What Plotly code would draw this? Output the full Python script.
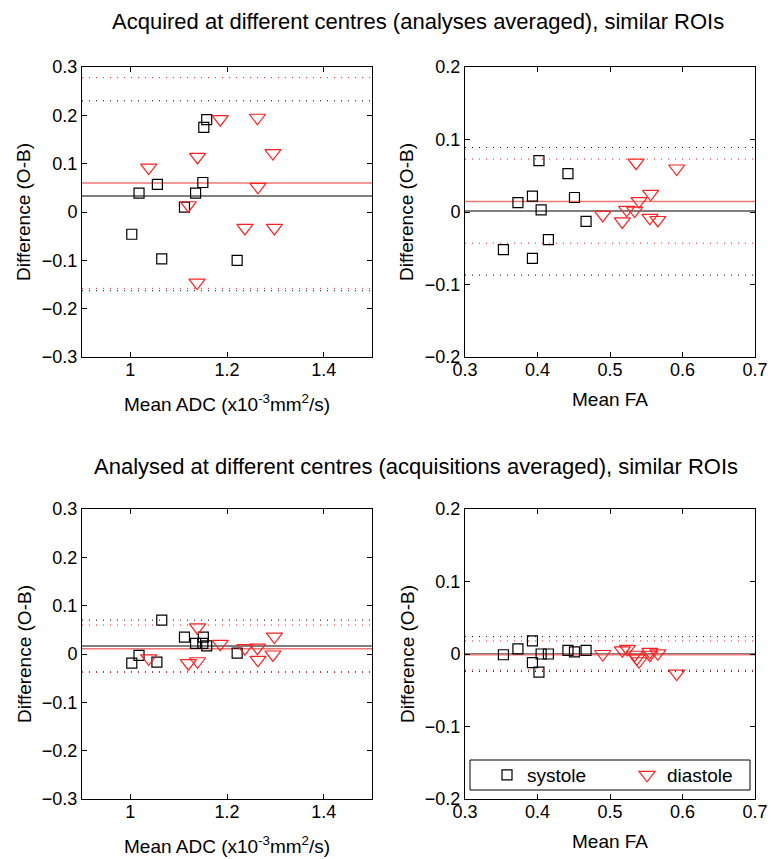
import plotly.graph_objects as go
from plotly.subplots import make_subplots

# ---------------- data ----------------
# Panel A: acquired at different centres, ADC
adc_sys_x = [1.158, 1.152, 1.056, 1.150, 1.018, 1.135, 1.112, 1.003, 1.065, 1.221]
adc_sys_y_acq = [0.191, 0.175, 0.057, 0.061, 0.039, 0.039, 0.010, -0.046, -0.097, -0.100]
adc_dia_x = [1.186, 1.263, 1.295, 1.139, 1.038, 1.264, 1.120, 1.237, 1.298, 1.138]
adc_dia_y_acq = [0.192, 0.195, 0.122, 0.114, 0.092, 0.052, 0.014, -0.033, -0.033, -0.146]
adc_acq_sys_stats = [0.033, 0.230, -0.163]   # mean, upper, lower limit
adc_acq_dia_stats = [0.060, 0.278, -0.158]

# Panel B: acquired at different centres, FA
fa_sys_x_acq = [0.402, 0.442, 0.373, 0.393, 0.451, 0.405, 0.467, 0.415, 0.353, 0.393]
fa_sys_y_acq = [0.071, 0.053, 0.013, 0.022, 0.020, 0.003, -0.013, -0.038, -0.052, -0.064]
fa_dia_x_acq = [0.536, 0.592, 0.556, 0.540, 0.523, 0.534, 0.490, 0.517, 0.555, 0.566]
fa_dia_y_acq = [0.068, 0.060, 0.025, 0.015, 0.003, 0.002, -0.004, -0.013, -0.008, -0.011]
fa_acq_sys_stats = [0.0013, 0.089, -0.087]
fa_acq_dia_stats = [0.0146, 0.073, -0.043]

# Panel C: analysed at different centres, ADC
adc_sys_x_an = [1.065, 1.112, 1.151, 1.135, 1.150, 1.158, 1.221, 1.018, 1.003, 1.055]
adc_sys_y_an = [0.070, 0.035, 0.035, 0.022, 0.022, 0.017, 0.002, -0.003, -0.019, -0.017]
adc_dia_x_an = [1.139, 1.298, 1.186, 1.237, 1.263, 1.038, 1.264, 1.295, 1.120, 1.139]
adc_dia_y_an = [0.055, 0.036, 0.021, 0.012, 0.013, -0.009, -0.012, -0.001, -0.019, -0.015]
adc_an_sys_stats = [0.0166, 0.070, -0.037]
adc_an_dia_stats = [0.011, 0.060, -0.038]

# Panel D: analysed at different centres, FA
fa_sys_x_an = [0.353, 0.373, 0.393, 0.405, 0.415, 0.393, 0.402, 0.442, 0.451, 0.467]
fa_sys_y_an = [-0.001, 0.007, 0.018, 0.000, 0.000, -0.012, -0.025, 0.005, 0.003, 0.005]
fa_dia_x_an = [0.490, 0.517, 0.524, 0.534, 0.537, 0.540, 0.555, 0.566, 0.555, 0.592]
fa_dia_y_an = [0.000, 0.005, 0.007, -0.001, -0.006, -0.010, 0.003, 0.001, -0.001, -0.027]
fa_an_sys_stats = [0.000, 0.024, -0.024]
fa_an_dia_stats = [-0.001, 0.018, -0.022]

title_top = "Acquired at different centres (analyses averaged), similar ROIs"
title_bottom = "Analysed at different centres (acquisitions averaged), similar ROIs"
xlabel_adc = "Mean ADC (x10<sup>-3</sup>mm<sup>2</sup>/s)"
xlabel_fa = "Mean FA"
ylabel = "Difference (O-B)"
adc_ticks = [1.0, 1.2, 1.4]
adc_ticktext = ["1", "1.2", "1.4"]
fa_ticks = [0.3, 0.4, 0.5, 0.6, 0.7]
adc_yticks = [-0.3, -0.2, -0.1, 0, 0.1, 0.2, 0.3]
fa_yticks = [-0.2, -0.1, 0, 0.1, 0.2]

# ---------------- figure ----------------
FONT = "Liberation Sans, Arial, Helvetica, sans-serif"
RED = "#ff2020"
W, H = 771, 859
fig = make_subplots(rows=2, cols=2)

panels = [
    (1, 1, adc_sys_x, adc_sys_y_acq, adc_dia_x, adc_dia_y_acq, adc_acq_sys_stats, adc_acq_dia_stats),
    (1, 2, fa_sys_x_acq, fa_sys_y_acq, fa_dia_x_acq, fa_dia_y_acq, fa_acq_sys_stats, fa_acq_dia_stats),
    (2, 1, adc_sys_x_an, adc_sys_y_an, adc_dia_x_an, adc_dia_y_an, adc_an_sys_stats, adc_an_dia_stats),
    (2, 2, fa_sys_x_an, fa_sys_y_an, fa_dia_x_an, fa_dia_y_an, fa_an_sys_stats, fa_an_dia_stats),
]

for i, (r, c, sx, sy, dx, dy, sst, dst) in enumerate(panels):
    show = (r == 2 and c == 2)
    fig.add_trace(go.Scatter(x=sx, y=sy, mode="markers", name="systole", showlegend=show,
                             marker=dict(symbol="square-open", size=10, color="black",
                                         line=dict(width=1.2, color="black"))),
                  row=r, col=c)
    fig.add_trace(go.Scatter(x=dx, y=dy, mode="markers", name="diastole", showlegend=show,
                             marker=dict(symbol="triangle-down-open", size=14, color=RED,
                                         line=dict(width=1.2, color=RED))),
                  row=r, col=c)
    # stats lines (drawn below the markers)
    fig.add_hline(y=sst[0], row=r, col=c, layer="below", exclude_empty_subplots=False,
                  line=dict(color="#555555", width=1.5))
    fig.add_hline(y=dst[0], row=r, col=c, layer="below", exclude_empty_subplots=False,
                  line=dict(color="#f07575", width=1.5))
    for v in sst[1:]:
        fig.add_hline(y=v, row=r, col=c, layer="below", exclude_empty_subplots=False,
                      line=dict(color="black", width=1, dash="1px,6px"))
    for v in dst[1:]:
        fig.add_hline(y=v, row=r, col=c, layer="below", exclude_empty_subplots=False,
                      line=dict(color=RED, width=1, dash="1px,6px"))

xdom_l = [82 / W, 372 / W]
xdom_r = [465 / W, 755 / W]
ydom_t = [1 - 357 / H, 1 - 67 / H]
ydom_b = [1 - 799 / H, 1 - 509 / H]

axis_common = dict(showgrid=False, zeroline=False, showline=True, linecolor="black",
                   linewidth=1, mirror="ticks", ticks="inside", ticklen=5, automargin=False,
                   tickcolor="black", tickfont=dict(size=18, color="black", family=FONT))

for r, c, xd, yd in [(1, 1, xdom_l, ydom_t), (1, 2, xdom_r, ydom_t),
                     (2, 1, xdom_l, ydom_b), (2, 2, xdom_r, ydom_b)]:
    adc = (c == 1)
    fig.update_xaxes(domain=xd, range=[0.9, 1.5] if adc else [0.3, 0.7],
                     tickvals=adc_ticks if adc else fa_ticks,
                     ticktext=adc_ticktext if adc else None,
                     ticklabelstandoff=-4,
                     row=r, col=c, **axis_common)
    fig.update_yaxes(domain=yd, range=[-0.3, 0.3] if adc else [-0.2, 0.2],
                     tickvals=adc_yticks if adc else fa_yticks,
                     row=r, col=c, **axis_common)


def ann(text, x, y, size, angle=0):
    fig.add_annotation(text=text, xref="paper", yref="paper", x=x / W, y=1 - y / H,
                       showarrow=False, textangle=angle,
                       font=dict(size=size, color="black", family=FONT),
                       xanchor="center", yanchor="middle")


ann(title_top, 418, 22, 22)
ann(title_bottom, 416, 466, 22)
# x-axis titles
ann(xlabel_adc, 227, 403, 19)
ann(xlabel_fa, 610, 399, 19)
ann(xlabel_adc, 227, 845, 19)
ann(xlabel_fa, 610, 841, 19)
# y-axis titles
ann(ylabel, 24, 212, 19, -90)
ann(ylabel, 407, 212, 19, -90)
ann(ylabel, 24, 654, 19, -90)
ann(ylabel, 407, 654, 19, -90)

# legend frame
fig.add_shape(type="rect", xref="paper", yref="paper",
              x0=470 / W, x1=750 / W, y0=1 - 790 / H, y1=1 - 760 / H,
              line=dict(color="black", width=1), fillcolor="white", layer="above")

fig.update_layout(
    width=W, height=H,
    margin=dict(l=0, r=0, t=0, b=0),
    paper_bgcolor="white", plot_bgcolor="white",
    font=dict(family=FONT, color="black"),
    legend=dict(orientation="h", x=487 / W, y=1 - 775 / H, xanchor="left", yanchor="middle",
                borderwidth=0, bgcolor="rgba(0,0,0,0)",
                font=dict(size=19, color="black", family=FONT),
                entrywidth=95, entrywidthmode="pixels", itemsizing="trace"),
)

fig.write_html("out.html", config={"displayModeBar": False},
               post_script="document.body.style.margin='0';document.body.style.overflow='hidden';")
